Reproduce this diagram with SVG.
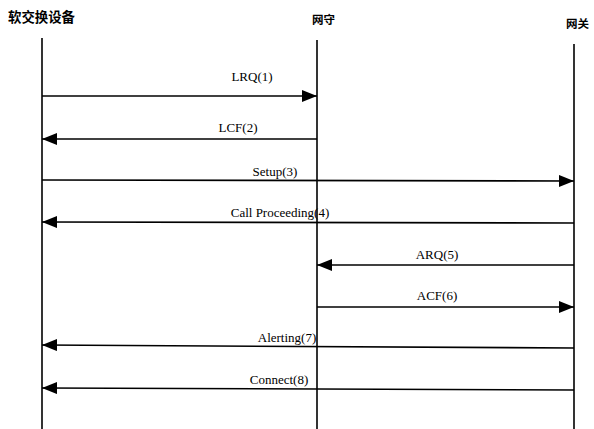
<svg xmlns="http://www.w3.org/2000/svg" width="594" height="429" viewBox="0 0 594 429">
<style>
.life{stroke:#000;stroke-width:1.6;fill:none}
.msg{stroke:#000;stroke-width:1.6;fill:none;marker-end:url(#ah)}
.t{font-family:"Liberation Serif",serif;font-size:13px;fill:#000;text-anchor:middle}
.h{font-family:"Noto Sans CJK SC",sans-serif;font-size:11.5px;font-weight:bold;fill:#000}
</style>
<defs>
<marker id="ah" viewBox="0 0 15 12" refX="15" refY="6" markerWidth="15" markerHeight="12" markerUnits="userSpaceOnUse" orient="auto">
<path d="M0,0 L15,6 L0,12 Z" fill="#000"/>
</marker>
</defs>
<rect width="594" height="429" fill="#fff"/>
<g id="softswitch"><text class="h" x="8" y="22" style="font-size:13.4px">软交换设备</text><line class="life" x1="42" y1="38" x2="42" y2="429"/></g>
<g id="gatekeeper"><text class="h" x="312" y="24">网守</text><line class="life" x1="317" y1="40" x2="317" y2="429"/></g>
<g id="gateway"><text class="h" x="566" y="28">网关</text><line class="life" x1="574" y1="44" x2="574" y2="429"/></g>
<g id="connectors">
<line class="msg" x1="42" y1="96" x2="317" y2="96"/><text class="t" x="252" y="81">LRQ(1)</text>
<line class="msg" x1="317" y1="139" x2="42" y2="139"/><text class="t" x="238" y="132">LCF(2)</text>
<line class="msg" x1="42" y1="180" x2="574" y2="181"/><text class="t" x="275" y="176">Setup(3)</text>
<line class="msg" x1="574" y1="223" x2="42" y2="222"/><text class="t" x="280" y="217">Call Proceeding(4)</text>
<line class="msg" x1="574" y1="265" x2="317" y2="265"/><text class="t" x="437" y="259">ARQ(5)</text>
<line class="msg" x1="317" y1="307" x2="574" y2="307"/><text class="t" x="437" y="300">ACF(6)</text>
<line class="msg" x1="574" y1="348" x2="42" y2="345"/><text class="t" x="287" y="342">Alerting(7)</text>
<line class="msg" x1="574" y1="390" x2="42" y2="388"/><text class="t" x="279" y="384">Connect(8)</text>
</g>
</svg>
